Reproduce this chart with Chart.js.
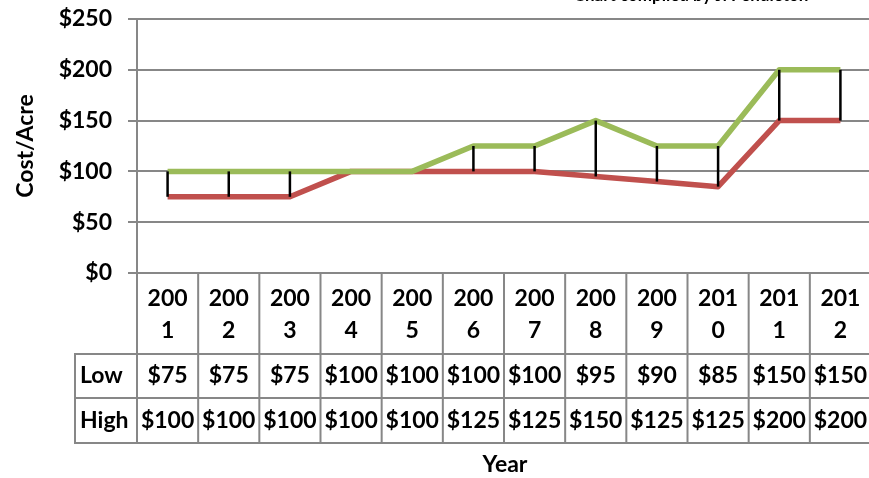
<!DOCTYPE html>
<html>
<head>
<meta charset="utf-8">
<script src="https://cdn.jsdelivr.net/npm/chart.js@4.4.1/dist/chart.umd.min.js"></script>
<style>
  html, body { margin: 0; padding: 0; background: #ffffff; overflow: hidden; }
  #wrap { position: absolute; left: 0; top: 0; width: 872px; height: 478px; }
</style>
</head>
<body>
<div id="wrap"><canvas id="c" width="872" height="478"></canvas></div>
<script>
const categories = ['2001','2002','2003','2004','2005','2006','2007','2008','2009','2010','2011','2012'];
const lowValues  = [75, 75, 75, 100, 100, 100, 100, 95, 90, 85, 150, 150];
const highValues = [100, 100, 100, 100, 100, 125, 125, 150, 125, 125, 200, 200];
const seriesNames = ['Low', 'High'];
const yAxisTitle = 'Cost/Acre';
const xAxisTitle = 'Year';
const topNote = 'Chart compiled by J. Pendleton';

const FONT = 'Lato';
const GRID = '#878787';

const tablePlugin = {
  id: 'tablePlugin',
  afterDatasetsDraw(chart) {
    const ctx = chart.ctx;
    const x = chart.scales.x, y = chart.scales.y;
    ctx.save();
    ctx.strokeStyle = '#000000';
    ctx.lineWidth = 2.5;
    ctx.lineCap = 'butt';
    for (let i = 0; i < categories.length; i++) {
      if (lowValues[i] === highValues[i]) continue;
      const px = x.getPixelForValue(i);
      ctx.beginPath();
      ctx.moveTo(px, y.getPixelForValue(lowValues[i]));
      ctx.lineTo(px, y.getPixelForValue(highValues[i]));
      ctx.stroke();
    }
    ctx.restore();
  },
  afterDraw(chart) {
    const ctx = chart.ctx;
    const area = chart.chartArea;
    const x = chart.scales.x;
    const n = categories.length;
    const colW = (area.right - area.left) / n;
    const top = area.bottom;
    const headerBottom = top + 81;
    const row1Bottom = headerBottom + 44;
    const row2Bottom = row1Bottom + 45;
    const labelLeft = 75;
    ctx.save();
    ctx.strokeStyle = GRID;
    ctx.lineWidth = 2;
    ctx.beginPath();
    ctx.moveTo(labelLeft, headerBottom); ctx.lineTo(area.right + 2, headerBottom);
    ctx.moveTo(labelLeft, row1Bottom); ctx.lineTo(area.right + 2, row1Bottom);
    ctx.moveTo(labelLeft, row2Bottom); ctx.lineTo(area.right + 2, row2Bottom);
    for (let i = 0; i <= n; i++) {
      const bx = area.left + i * colW;
      ctx.moveTo(bx, top); ctx.lineTo(bx, row2Bottom);
    }
    ctx.moveTo(labelLeft, headerBottom - 1); ctx.lineTo(labelLeft, row2Bottom + 1);
    ctx.stroke();

    ctx.fillStyle = '#000000';
    ctx.font = 'bold 23px ' + FONT;
    ctx.textBaseline = 'middle';
    ctx.textAlign = 'center';
    const hMid = (top + headerBottom) / 2;
    const r1Mid = (headerBottom + row1Bottom) / 2;
    const r2Mid = (row1Bottom + row2Bottom) / 2;
    for (let i = 0; i < n; i++) {
      const cx = x.getPixelForValue(i);
      const lab = categories[i];
      ctx.fillText(lab.slice(0, 3), cx, hMid - 15);
      ctx.fillText(lab.slice(3), cx, hMid + 17);
      ctx.fillText('$' + lowValues[i], cx, r1Mid);
      ctx.fillText('$' + highValues[i], cx, r2Mid);
    }
    ctx.textAlign = 'left';
    ctx.fillText(seriesNames[0], labelLeft + 5, r1Mid);
    ctx.fillText(seriesNames[1], labelLeft + 5, r2Mid);

    ctx.textAlign = 'center';
    ctx.fillText(xAxisTitle, 505, 465);

    ctx.font = 'bold 17px ' + FONT;
    ctx.textBaseline = 'alphabetic';
    ctx.fillText(topNote, 691, 1);
    ctx.restore();
  }
};

new Chart(document.getElementById('c'), {
  type: 'line',
  data: {
    labels: categories,
    datasets: [
      {
        label: seriesNames[1],
        data: highValues,
        borderColor: '#9bbb59',
        backgroundColor: '#9bbb59',
        borderWidth: 5.5,
        pointRadius: 0,
        tension: 0,
        borderJoinStyle: 'round',
        order: 0
      },
      {
        label: seriesNames[0],
        data: lowValues,
        borderColor: '#c0504d',
        backgroundColor: '#c0504d',
        borderWidth: 5.5,
        pointRadius: 0,
        tension: 0,
        borderJoinStyle: 'round',
        order: 1
      }
    ]
  },
  options: {
    responsive: false,
    animation: false,
    devicePixelRatio: 1,
    layout: { padding: { top: 19, right: 1, bottom: 205, left: 0 } },
    plugins: { legend: { display: false }, tooltip: { enabled: false } },
    scales: {
      x: { display: false, offset: true },
      y: {
        min: 0,
        max: 250,
        ticks: {
          stepSize: 50,
          padding: 16,
          color: '#000000',
          font: { family: FONT, size: 23, weight: 'bold' },
          callback: v => '$' + v
        },
        grid: { color: GRID, lineWidth: 2, tickLength: 9, drawTicks: true },
        border: { display: true, color: GRID, width: 2 },
        title: {
          display: true,
          text: yAxisTitle,
          color: '#000000',
          font: { family: FONT, size: 23, weight: 'bold' },
          padding: { top: 12, bottom: 0 }
        },
        afterFit(scale) { scale.width = 137; scale.paddingTop = 0; scale.paddingBottom = 0; }
      }
    }
  },
  plugins: [tablePlugin]
});
</script>
</body>
</html>
